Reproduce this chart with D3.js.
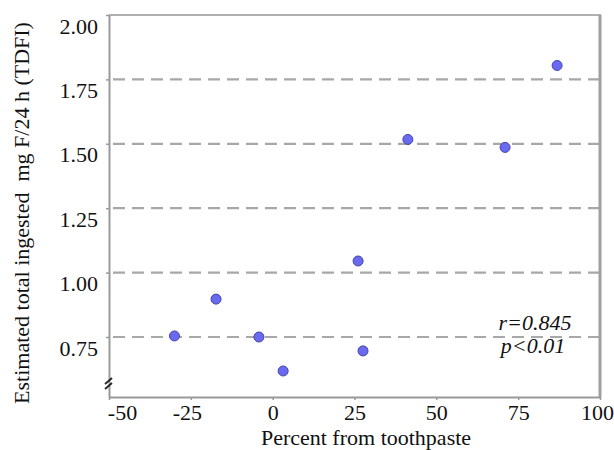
<!DOCTYPE html>
<html>
<head>
<meta charset="utf-8">
<script src="https://cdn.jsdelivr.net/npm/d3@7"></script>
<style>
  body { margin: 0; background: #fff; }
  svg text { font-family: "Liberation Serif", "Times New Roman", Times, serif; }
</style>
</head>
<body>
<svg width="614" height="450"></svg>
<script>
// Data
const pctToothpaste = [-30, -17.3, -4.2, 3.2, 26.1, 27.6, 41.3, 71.0, 86.9]
const tdfi = [0.754, 0.897, 0.750, 0.618, 1.045, 0.696, 1.517, 1.486, 1.804]
const xTicks = [-50, -25, 0, 25, 50, 75, 100]
const yTicks = [0.75, 1.00, 1.25, 1.50, 1.75, 2.00]
const gridValues = [0.75, 1.00, 1.25, 1.50, 1.75]

const serif = '"Liberation Serif", "Times New Roman", Times, serif'
const plotLeft = 109, plotRight = 600, plotTop = 15, plotBottom = 397

const svg = d3.select('svg')

let xScale = d3.scaleLinear().domain([-50, 100]).range([plotLeft, plotRight])
let yScale = d3.scaleLinear().domain([0.517, 2.0]).range([plotBottom, plotTop])

// Dashed grid
svg.append('g')
    .selectAll('line')
    .data(gridValues)
    .enter()
    .append('line')
    .attr('x1', plotLeft)
    .attr('x2', plotRight + 4)
    .attr('y1', d => yScale(d))
    .attr('y2', d => yScale(d))
    .attr('stroke', '#a8a8a8')
    .attr('stroke-width', 2.2)
    .attr('stroke-dasharray', '12,7')
    .attr('stroke-dashoffset', -4)

// Frame top and right
svg.append('line')
    .attr('x1', plotLeft).attr('x2', plotRight + 1)
    .attr('y1', plotTop).attr('y2', plotTop)
    .attr('stroke', '#b0b0b0').attr('stroke-width', 2)
svg.append('line')
    .attr('x1', plotRight).attr('x2', plotRight)
    .attr('y1', plotTop).attr('y2', plotBottom)
    .attr('stroke', '#a0a0a0').attr('stroke-width', 3)

// Axes
let xAxis = d3.axisBottom(xScale)
    .tickValues(xTicks)
    .tickFormat(d => String(d))
    .tickSizeInner(3)
    .tickSizeOuter(0)
let gx = svg.append('g')
    .attr('transform', 'translate(0,' + plotBottom + ')')
    .call(xAxis)
gx.attr('font-family', serif)
gx.select('.domain').attr('stroke', '#999').attr('stroke-width', 2)
gx.selectAll('.tick line').attr('stroke', '#999').attr('stroke-width', 1.5)
gx.selectAll('.tick text')
    .style('font-family', serif)
    .attr('font-size', 22)
    .attr('fill', '#111')
    .attr('y', 7)
    .attr('dx', d => d === -50 ? 13 : d === 100 ? -3 : d === -25 ? -4 : 0)

let yAxis = d3.axisLeft(yScale)
    .tickValues(yTicks)
    .tickFormat(d3.format('.2f'))
    .tickSizeInner(3)
    .tickSizeOuter(0)
let gy = svg.append('g')
    .attr('transform', 'translate(' + plotLeft + ',0)')
    .call(yAxis)
gy.attr('font-family', serif)
gy.select('.domain').attr('stroke', '#999').attr('stroke-width', 2)
gy.selectAll('.tick line').attr('stroke', '#999').attr('stroke-width', 1.5)
gy.selectAll('.tick text')
    .style('font-family', serif)
    .attr('font-size', 22)
    .attr('fill', '#111')
    .attr('x', -11)
    .attr('dy', '0.82em')

// Axis break marks
let breakY = plotBottom - 14
svg.append('g')
    .selectAll('line')
    .data([-2, 3])
    .enter()
    .append('line')
    .attr('x1', plotLeft - 4).attr('x2', plotLeft + 3)
    .attr('y1', d => breakY + d + 3).attr('y2', d => breakY + d - 3)
    .attr('stroke', '#222').attr('stroke-width', 1.8)

// Points
svg.append('g')
    .selectAll('circle')
    .data(pctToothpaste)
    .enter()
    .append('circle')
    .attr('cx', d => xScale(d))
    .attr('cy', (d, i) => yScale(tdfi[i]))
    .attr('r', 5)
    .attr('fill', '#6a6af0')
    .attr('stroke', '#4444a8')
    .attr('stroke-width', 1)

// Axis titles
svg.append('text')
    .attr('x', 366)
    .attr('y', 445)
    .attr('text-anchor', 'middle')
    .attr('font-size', 22)
    .attr('fill', '#111')
    .text('Percent from toothpaste')

svg.append('text')
    .attr('transform', 'translate(29,213) rotate(-90)')
    .attr('text-anchor', 'middle')
    .attr('font-size', 22)
    .attr('fill', '#111')
    .attr('xml:space', 'preserve')
    .text('Estimated total ingested  mg F/24 h (TDFI)')

// Statistics note
svg.append('text')
    .attr('x', 535).attr('y', 330)
    .attr('text-anchor', 'middle')
    .attr('font-size', 22)
    .attr('font-style', 'italic')
    .attr('fill', '#111')
    .text('r=0.845')
svg.append('text')
    .attr('x', 533).attr('y', 353)
    .attr('text-anchor', 'middle')
    .attr('font-size', 22)
    .attr('font-style', 'italic')
    .attr('fill', '#111')
    .text('p<0.01')
</script>
</body>
</html>
